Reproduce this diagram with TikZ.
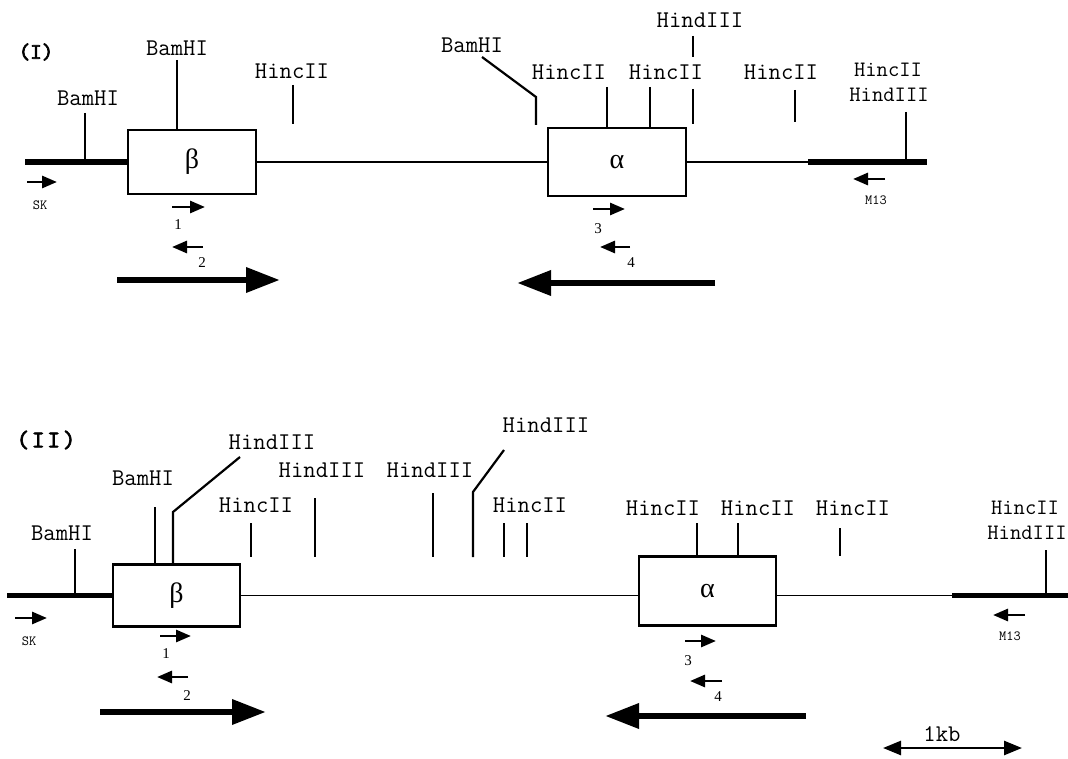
\documentclass[tikz,border=0pt]{standalone}
\usepackage{fontspec}
\setmainfont{Liberation Serif}
\newfontfamily\boldtt{lmmono10-regular.otf}[FakeBold=3]
\usetikzlibrary{arrows.meta}
\tikzset{
  lab/.style={font=\ttfamily\fontsize{24}{26}\selectfont, inner sep=0pt},
  rlab/.style={font=\ttfamily\fontsize{22}{24}\selectfont, inner sep=0pt},
  smlab/.style={font=\ttfamily\fontsize{14}{16}\selectfont, inner sep=0pt},
  num/.style={font=\fontsize{15}{17}\selectfont, inner sep=0pt},
  gene/.style={draw, line width=2.2pt, inner sep=0pt, font=\fontsize{28}{30}\selectfont},
  thinline/.style={line width=1.8pt},
  thickline/.style={line width=5.5pt},
  tick/.style={line width=2.2pt},
  prim/.style={line width=2.8pt, -{Triangle[length=15pt,width=12pt]}},
  bigarr/.style={line width=6.5pt, -{Triangle[length=34pt,width=24pt]}},
  scalearr/.style={line width=2.6pt, {Triangle[length=18pt,width=14pt]}-{Triangle[length=18pt,width=14pt]}}
}
\begin{document}
\begin{tikzpicture}[x=1pt,y=-1pt]
\useasboundingbox (0,0) rectangle (1068,759);

% ---------------- (I) ----------------
\node[inner sep=0pt, font=\boldtt\fontsize{22}{24}\selectfont] (tI) at (36,52) {(I)};

\node[gene, minimum width=128pt, minimum height=64pt] (b1) at (192,162) {β};
\node[gene, minimum width=138pt, minimum height=68pt] (a1) at (617,162) {α};

\coordinate (l1s) at (25,162);
\coordinate (l1m) at (808,162);
\coordinate (l1e) at (927,162);
\draw[thickline] (l1s) -- (b1.west);
\draw[thinline] (b1.east) -- (a1.west);
\draw[thinline] (a1.east) -- (l1m);
\draw[thickline] (l1m) -- (l1e);

% sites
\node[lab] (s1) at (88,98) {BamHI};
\draw[tick] (85,113) -- (85,162);
\node[lab] (s2) at (177,48) {BamHI};
\draw[tick] (177,60) -- (177,130);
\node[lab] (s3) at (292,71) {HincII};
\draw[tick] (293,85) -- (293,124);
\node[lab] (s4) at (472,45) {BamHI};
\draw[tick] (482,57) -- (536,97) -- (536,125);
\node[lab] (s5) at (569,72) {HincII};
\draw[tick] (607,87) -- (607,128);
\node[lab] (s6) at (666,72) {HincII};
\draw[tick] (650,87) -- (650,128);
\node[lab] (s7) at (700,20) {HindIII};
\draw[tick] (693,36) -- (693,57);
\draw[tick] (693,89) -- (693,124);
\node[lab] (s8) at (781,72) {HincII};
\draw[tick] (795,90) -- (795,122);
\node[rlab] (s9) at (888,70) {HincII};
\node[rlab] (s10) at (889,95) {HindIII};
\draw[tick] (906,112) -- (906,162);

% primers
\coordinate (p1a) at (27,182); \coordinate (p1b) at (57,182);
\draw[prim] (p1a) -- (p1b);
\node[smlab] (sk1) at (40,205) {SK};
\coordinate (p2a) at (172,207); \coordinate (p2b) at (205,207);
\draw[prim] (p2a) -- (p2b);
\node[num] (n1a) at (178,225) {1};
\coordinate (p3a) at (203,247); \coordinate (p3b) at (172,247);
\draw[prim] (p3a) -- (p3b);
\node[num] (n2a) at (202,263) {2};
\coordinate (t1a) at (117,280); \coordinate (t1b) at (280,280);
\draw[bigarr] (t1a) -- (t1b);
\coordinate (p4a) at (593,209); \coordinate (p4b) at (625,209);
\draw[prim] (p4a) -- (p4b);
\node[num] (n3a) at (598,229) {3};
\coordinate (p5a) at (630,247); \coordinate (p5b) at (600,247);
\draw[prim] (p5a) -- (p5b);
\node[num] (n4a) at (631,263) {4};
\coordinate (t2a) at (715,283); \coordinate (t2b) at (517,283);
\draw[bigarr] (t2a) -- (t2b);
\coordinate (p6a) at (885,179); \coordinate (p6b) at (853,179);
\draw[prim] (p6a) -- (p6b);
\node[smlab] (m1) at (876,200) {M13};

% ---------------- (II) ----------------
\node[inner sep=0pt, font=\boldtt\fontsize{24}{26}\selectfont\addfontfeature{LetterSpace=12}] (tII) at (46,440) {(II)};

\node[gene, minimum width=127pt, minimum height=62pt] (b2) at (176.5,595.5) {β};
\node[gene, minimum width=137pt, minimum height=69pt] (a2) at (707.5,591) {α};

\coordinate (l2s) at (7,595.5);
\coordinate (l2m) at (952,595.5);
\coordinate (l2e) at (1068,595.5);
\draw[thickline] (l2s) -- (b2.west);
\draw[thinline] (b2.east) -- (b2.east -| a2.west);
\draw[thinline] (a2.east |- l2m) -- (l2m);
\draw[thickline] (l2m) -- (l2e);

\node[lab] (u1) at (62,533) {BamHI};
\draw[tick] (75,549) -- (75,595.5);
\node[lab] (u2) at (143,478) {BamHI};
\draw[tick] (155,507) -- (155,565);
\node[lab] (u3) at (272,442) {HindIII};
\draw[tick] (173,565) -- (173,512) -- (240,457);
\node[lab] (u4) at (256,505) {HincII};
\draw[tick] (251,523) -- (251,557);
\node[lab] (u5) at (322,470) {HindIII};
\draw[tick] (315,498) -- (315,557);
\node[lab] (u6) at (430,470) {HindIII};
\draw[tick] (433,493) -- (433,557);
\node[lab] (u7) at (546,425) {HindIII};
\draw[tick] (473,557) -- (473,492) -- (504,450);
\node[lab] (u8) at (530,505) {HincII};
\draw[tick] (504,523) -- (504,557);
\draw[tick] (527,523) -- (527,557);
\node[lab] (u9) at (663,508) {HincII};
\draw[tick] (697,523) -- (697,557);
\node[lab] (u10) at (758,508) {HincII};
\draw[tick] (738,523) -- (738,557);
\node[lab] (u11) at (853,508) {HincII};
\draw[tick] (840,528) -- (840,556);
\node[rlab] (u12) at (1025,508) {HincII};
\node[rlab] (u13) at (1027,533) {HindIII};
\draw[tick] (1046,550) -- (1046,595.5);

% primers
\coordinate (q1a) at (15,618); \coordinate (q1b) at (47,618);
\draw[prim] (q1a) -- (q1b);
\node[smlab] (sk2) at (29,641) {SK};
\coordinate (q2a) at (160,636); \coordinate (q2b) at (191,636);
\draw[prim] (q2a) -- (q2b);
\node[num] (n1b) at (166,654) {1};
\coordinate (q3a) at (188,677); \coordinate (q3b) at (157,677);
\draw[prim] (q3a) -- (q3b);
\node[num] (n2b) at (187,696) {2};
\coordinate (r1a) at (100,712); \coordinate (r1b) at (266,712);
\draw[bigarr] (r1a) -- (r1b);
\coordinate (q4a) at (685,641); \coordinate (q4b) at (716,641);
\draw[prim] (q4a) -- (q4b);
\node[num] (n3b) at (688,661) {3};
\coordinate (q5a) at (722,681); \coordinate (q5b) at (690,681);
\draw[prim] (q5a) -- (q5b);
\node[num] (n4b) at (718,697) {4};
\coordinate (r2a) at (806,716); \coordinate (r2b) at (605,716);
\draw[bigarr] (r2a) -- (r2b);
\coordinate (q6a) at (1025,615); \coordinate (q6b) at (993,615);
\draw[prim] (q6a) -- (q6b);
\node[smlab] (m2) at (1010,636) {M13};

% scale bar
\coordinate (sa) at (883,748); \coordinate (sb) at (1022,748);
\draw[scalearr] (sa) -- (sb);
\node[lab] (kb) at (942,734) {1kb};
\end{tikzpicture}
\end{document}
